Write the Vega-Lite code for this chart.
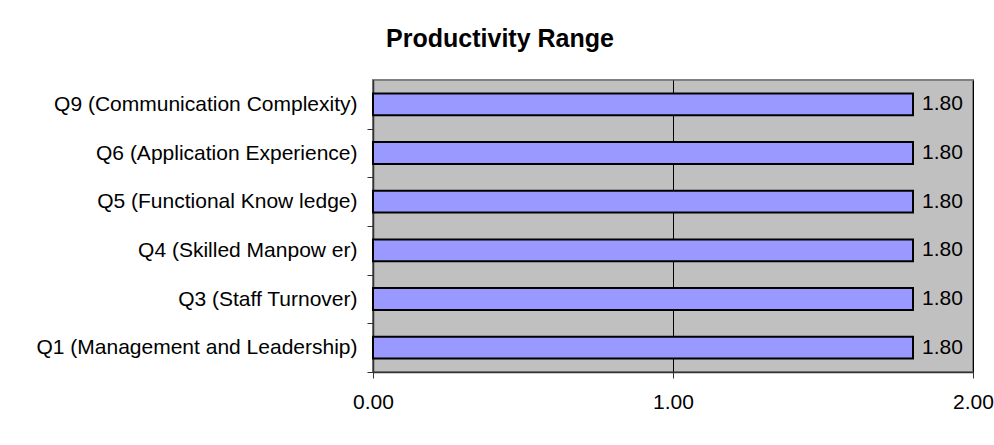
{
  "$schema": "https://vega.github.io/schema/vega-lite/v6.json",
  "width": 600,
  "height": 292,
  "autosize": {"type": "none"},
  "padding": {"left": 373, "top": 80, "right": 21, "bottom": 73},
  "background": "white",
  "title": {
    "text": "Productivity Range",
    "font": "Liberation Sans",
    "fontSize": 25,
    "fontWeight": "bold",
    "color": "black",
    "anchor": "middle",
    "frame": "group",
    "baseline": "alphabetic",
    "offset": 33,
    "dy": 25,
    "dx": -173
  },
  "data": {
    "values": [
      {"question": "Q9 (Communication Complexity)", "range": 1.8, "order": 1},
      {"question": "Q6 (Application Experience)", "range": 1.8, "order": 2},
      {"question": "Q5 (Functional Know ledge)", "range": 1.8, "order": 3},
      {"question": "Q4 (Skilled Manpow er)", "range": 1.8, "order": 4},
      {"question": "Q3 (Staff Turnover)", "range": 1.8, "order": 5},
      {"question": "Q1 (Management and Leadership)", "range": 1.8, "order": 6}
    ]
  },
  "encoding": {
    "y": {
      "field": "question",
      "type": "nominal",
      "sort": {"field": "order"},
      "scale": {"paddingInner": 0.55, "paddingOuter": 0.275},
      "axis": {
        "title": null,
        "tickOffset": 24.33,
        "labelOffset": -24.33,
        "tickSize": 6,
        "tickColor": "#333333",
        "domainColor": "#333333",
        "domainWidth": 1.5,
        "labelPadding": 10,
        "labelFont": "Liberation Sans",
        "labelFontSize": 21,
        "labelColor": "black",
        "labelLimit": 500
      }
    },
    "x": {
      "field": "range",
      "type": "quantitative",
      "scale": {"domain": [0, 2], "nice": false},
      "axis": {
        "title": null,
        "values": [0, 1, 2],
        "format": ".2f",
        "grid": true,
        "gridColor": "black",
        "gridWidth": 1,
        "tickSize": 6,
        "tickColor": "#333333",
        "domainColor": "#333333",
        "domainWidth": 1.5,
        "labelPadding": 13,
        "labelFont": "Liberation Sans",
        "labelFontSize": 21,
        "labelColor": "black",
        "labelFlush": false
      }
    }
  },
  "layer": [
    {
      "mark": {"type": "bar", "fill": "#9999FF", "stroke": "black", "strokeWidth": 2}
    },
    {
      "mark": {
        "type": "text",
        "align": "left",
        "baseline": "middle",
        "dx": 9,
        "font": "Liberation Sans",
        "fontSize": 21,
        "color": "black"
      },
      "encoding": {
        "text": {"field": "range", "type": "quantitative", "format": ".2f"}
      }
    }
  ],
  "config": {
    "view": {"fill": "#C0C0C0", "stroke": "#808080", "strokeWidth": 2}
  }
}
